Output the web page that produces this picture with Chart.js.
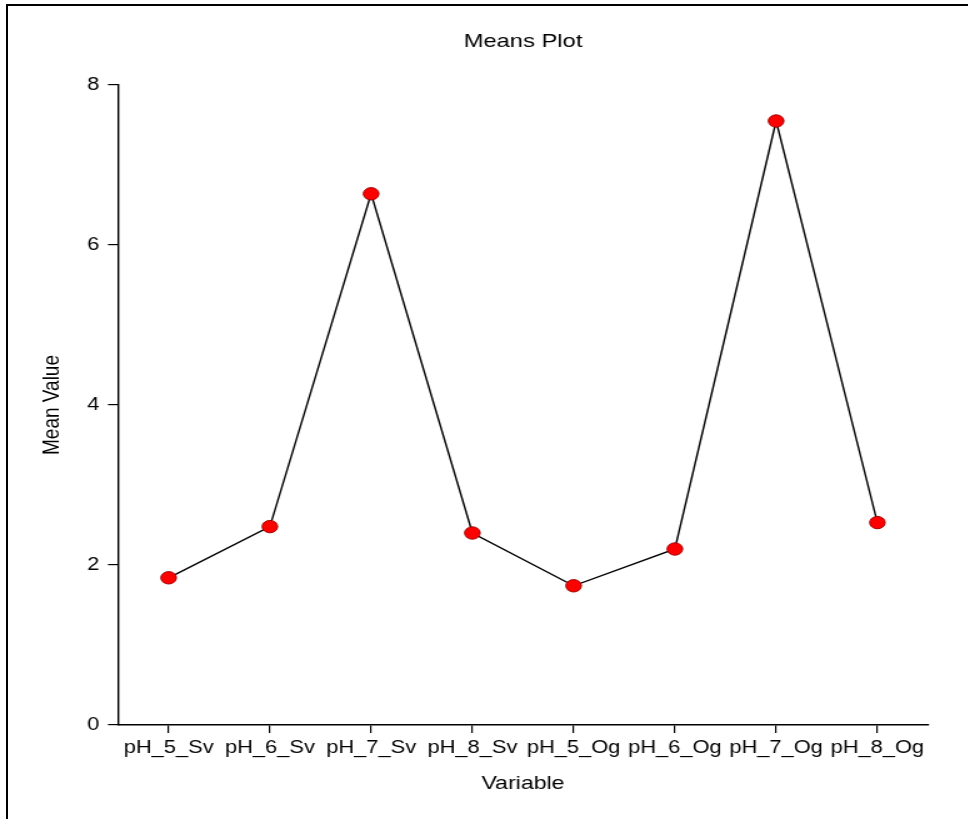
<!DOCTYPE html>
<html>
<head>
<meta charset="utf-8">
<script src="https://cdn.jsdelivr.net/npm/chart.js@4/dist/chart.umd.min.js"></script>
<style>
  html, body { margin: 0; padding: 0; background: #fff; overflow: hidden; }
  #frame { position: absolute; left: 6px; top: 4px; width: 962px; height: 830px;
           border-left: 2px solid #000; border-top: 2px solid #000; box-sizing: border-box; }
  #wrap { position: absolute; left: 0; top: 0; width: 775px; height: 819px;
          transform: scaleX(1.25); transform-origin: 0 0; }
</style>
</head>
<body>
<div id="frame"></div>
<div id="wrap"><canvas id="c" width="775" height="819"></canvas></div>
<script>
const categories = ["pH_5_Sv", "pH_6_Sv", "pH_7_Sv", "pH_8_Sv", "pH_5_Og", "pH_6_Og", "pH_7_Og", "pH_8_Og"];
const meanValues = [1.84, 2.48, 6.64, 2.40, 1.74, 2.20, 7.55, 2.53];
const yTickValues = [0, 2, 4, 6, 8];

const FONT = "'Liberation Sans', Arial, Helvetica, sans-serif";

new Chart(document.getElementById('c'), {
  type: 'line',
  data: {
    labels: categories,
    datasets: [{
      data: meanValues,
      borderColor: '#000000',
      borderWidth: 1.4,
      backgroundColor: '#ff0000',
      pointBackgroundColor: '#ff0000',
      pointBorderColor: '#a00000',
      pointBorderWidth: 1,
      pointRadius: 6.2,
      pointHoverRadius: 6.2,
      tension: 0,
      fill: false,
      clip: false
    }]
  },
  options: {
    responsive: false,
    animation: false,
    devicePixelRatio: 1,
    events: [],
    layout: { padding: { left: 0, right: 32.6, top: 0, bottom: 0 } },
    plugins: {
      legend: { display: false },
      tooltip: { enabled: false },
      title: {
        display: true,
        text: 'Means Plot',
        color: '#000',
        fullSize: false,
        font: { family: FONT, size: 19, weight: 'normal' },
        padding: { top: 30.4, bottom: 31.8 }
      }
    },
    scales: {
      x: {
        type: 'category',
        offset: true,
        grid: { display: true, drawOnChartArea: false, offset: false, tickLength: 8, color: '#000', lineWidth: 1.2 },
        border: { display: true, color: '#000', width: 1.4 },
        ticks: { color: '#000', autoSkip: false, maxRotation: 0, minRotation: 0, padding: 5,
                 font: { family: FONT, size: 17.5 } },
        title: { display: true, text: 'Variable', color: '#000',
                 font: { family: FONT, size: 18.5 }, padding: { top: 4, bottom: 24 } },
        afterFit: (s) => { s.height = 94; }
      },
      y: {
        min: 0, max: 8,
        afterBuildTicks: (s) => { s.ticks = yTickValues.map(v => ({ value: v })); },
        grid: { display: true, drawOnChartArea: false, tickLength: 8, color: '#000', lineWidth: 1.2 },
        border: { display: true, color: '#000', width: 1.4 },
        ticks: { color: '#000', padding: 7, font: { family: FONT, size: 17.5 } },
        title: { display: true, text: 'Mean Value', color: '#000',
                 font: { family: FONT, size: 19 }, padding: { top: 30.2, bottom: 4 } },
        afterFit: (s) => { s.width = 94.4; }
      }
    }
  }
});
</script>
</body>
</html>
